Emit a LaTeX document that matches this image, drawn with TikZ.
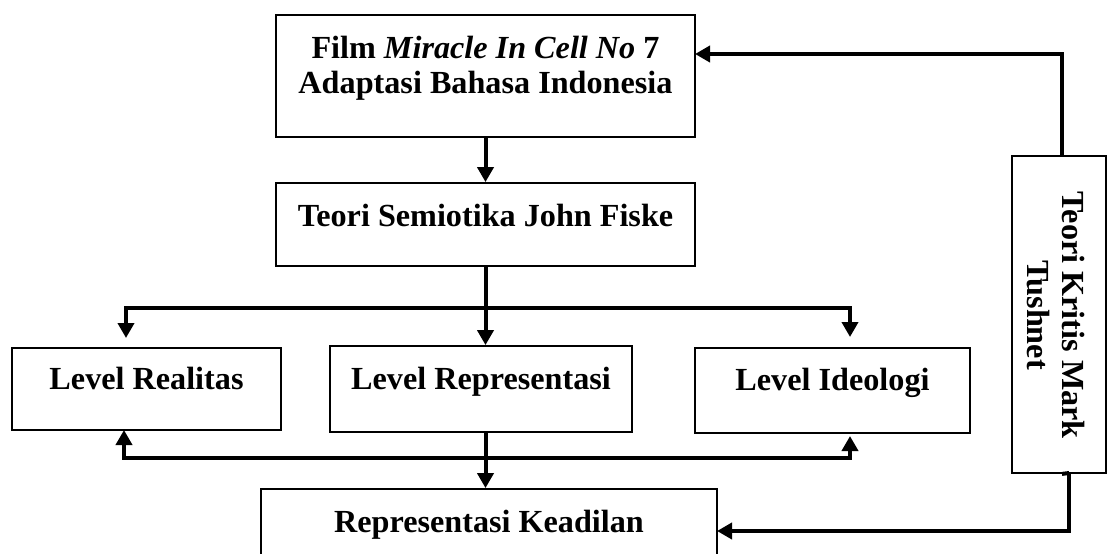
\documentclass[tikz,border=0pt]{standalone}
\usepackage{fontspec}
\setmainfont{Liberation Serif}
\usetikzlibrary{arrows.meta}
\begin{document}
\begin{tikzpicture}[x=0.5pt,y=-0.5pt,
  box/.style={draw=black, line width=0.9pt, rectangle, inner sep=0pt},
  lbl/.style={font=\fontsize{16.1}{17.6}\selectfont\bfseries, inner sep=0pt, align=center},
  conn/.style={line width=2pt, -{Triangle[width=8pt,length=7.5pt]}},
  plain/.style={line width=2pt}]
\useasboundingbox (0,0) rectangle (1108,553);
\fill[white] (0,0) rectangle (1108,553);
% boxes
\node[box, minimum width=209.5pt, minimum height=61pt] (A) at (485.5,76) {};
\node[box, minimum width=209.5pt, minimum height=41.5pt] (B) at (485.5,224.5) {};
\node[box, minimum width=134.5pt, minimum height=41pt] (LR) at (146.5,389) {};
\node[box, minimum width=151pt, minimum height=43pt] (LRep) at (481,389) {};
\node[box, minimum width=137.5pt, minimum height=42.5pt] (LI) at (832.5,390.5) {};
\node[box, minimum width=228pt, minimum height=55.5pt] (RK) at (489,544.5) {};
\node[box, minimum width=47pt, minimum height=158.5pt] (T) at (1059,314.5) {};
% texts
\node[lbl, anchor=base] (tA1) at (485.5,58) {Film \textit{Miracle In Cell No} 7};
\node[lbl, anchor=base] (tA2) at (485.5,93) {Adaptasi Bahasa Indonesia};
\node[lbl, anchor=base] (tB) at (485.5,226) {Teori Semiotika John Fiske};
\node[lbl, anchor=base] (tLR) at (146.5,389) {Level Realitas};
\node[lbl, anchor=base] (tLRep) at (481,389) {Level Representasi};
\node[lbl, anchor=base] (tLI) at (832.5,390) {Level Ideologi};
\node[lbl, anchor=base] (tRK) at (489,532) {Representasi Keadilan};
\node[lbl, rotate=-90] (tT) at (1056,315) {Teori Kritis Mark\\Tushnet};
% coordinates
\coordinate (br) at (486,308);
\coordinate (bl) at (486,458);
\coordinate (lrin) at (126,338);
\coordinate (liin) at (850,337);
\coordinate (lrout) at (124,430);
\coordinate (liout) at (850,436);
\coordinate (ain) at (695,54);
\coordinate (rkin) at (717,531);
\coordinate (tbot) at (1069,473);
% connectors
\draw[conn] (A.south) -- (B.north);
\draw[conn] (B.south) -- (B.south |- LRep.north);
\draw[conn] (br) -| (lrin);
\draw[conn] (br) -| (liin);
\draw[conn] (B.south |- LRep.south) -- (B.south |- RK.north);
\draw[conn] (bl) -| (lrout);
\draw[conn] (bl) -| (liout);
\draw[conn] ([xshift=1.5pt]T.north) |- (ain);
\draw[plain] ([xshift=1.5pt]T.south) -- (tbot);
\draw[conn] (tbot) |- (rkin);
\end{tikzpicture}
\end{document}
